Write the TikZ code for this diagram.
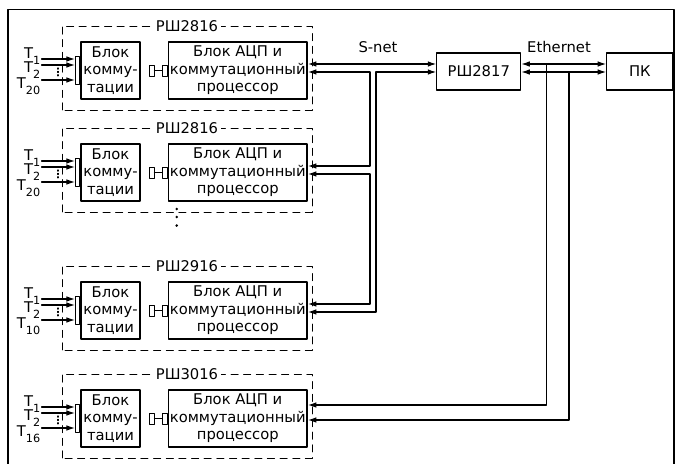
\documentclass[tikz,border=0pt]{standalone}
\usepackage{fontspec}
\setmainfont{DejaVu Sans}
\usetikzlibrary{arrows.meta}
\newcommand{\tin}[1]{T\raisebox{-4.5pt}{\footnotesize #1}}

\begin{document}
\begin{tikzpicture}[line cap=round,line join=round,
    font=\fontsize{10.5}{12.5}\selectfont,
    box/.style={draw,line width=0.9pt,align=center,inner sep=0pt,minimum height=1.425cm},
    plug/.style={draw,line width=0.7pt,inner sep=0pt,minimum width=0.125cm,minimum height=0.275cm},
    rack/.style={line width=0.7pt,dash pattern=on 5pt off 4pt},
    wire/.style={line width=0.75pt},
    into/.style={wire,-{Latex[length=2.1mm,width=1.4mm]}},
    both/.style={wire,{Latex[length=2.1mm,width=1.4mm]}-{Latex[length=2.1mm,width=1.4mm]}}]
  \useasboundingbox (0,0) rectangle (17.05,11.6);
  \draw[line width=0.8pt] (0.2,0) |- (16.85,11.36) -- (16.85,0);
  % four racks
  \foreach \i/\d/\lbl/\nn/\ya in {1/0/РШ2816/20/10.0,2/2.55/РШ2816/20/10.0,3/6.0/РШ2916/10/10.0,4/8.7/РШ3016/16/10.175}{
    \begin{scope}[yshift=-\d cm]
      \draw[rack] (1.55,8.85) rectangle (7.8,10.95);
      \node[fill=white,inner sep=2pt] (n\i) at (4.675,10.95) {\lbl};
      \node[box,minimum width=1.475cm] (k\i) at (2.7625,9.8375) {Блок\\комму-\\тации};
      \node[box,minimum width=3.4625cm] (p\i) at (5.944,9.8375) {Блок АЦП и\\коммутационный\\процессор};
      \node[draw,line width=0.8pt,inner sep=0pt,minimum width=0.11cm,minimum height=0.7cm,anchor=east] (bar\i) at (k\i.west) {};
      \node[plug] (l\i) at (3.7875,9.8375) {};
      \node[plug,anchor=east] (r\i) at (p\i.west) {};
      \draw[wire] (l\i) -- (r\i);
      \coordinate (a\i) at (1.04,10.125);
      \coordinate (b\i) at (1.04,9.975);
      \coordinate (c\i) at (1.04,9.6);
      \foreach \s in {a,b,c} \draw[into] (\s\i) -- (\s\i -| bar\i.west);
      \draw[wire,dash pattern=on 0.8pt off 1.6pt] (1.45,9.9) -- (1.45,9.65);
      \node[anchor=base east,inner sep=0pt] (ta\i) at (1.0125,10.1425) {\tin{1}};
      \node[anchor=base east,inner sep=0pt] (tb\i) at (1.0125,9.7925) {\tin{2}};
      \node[anchor=base east,inner sep=0pt] (tc\i) at (1.0125,9.3925) {\tin{\nn}};
      \coordinate (hi\i) at (7.7,\ya);
      \coordinate (lo\i) at (7.7,9.8);
    \end{scope}
  }
  \foreach \y in {6.375,6.175,5.96} \fill (4.4175,\y) circle (0.035);
  \node[box,minimum width=2.1cm,minimum height=0.925cm] (rsh) at (11.97,9.8125) {РШ2817};
  \node[box,minimum width=1.66cm,minimum height=0.925cm] (pc) at (15.9975,9.8125) {ПК};
  \node (snet) at (9.45,10.425) {S-net};
  \node (eth) at (13.975,10.425) {Ethernet};
  \coordinate (busa) at (9.25,0);
  \coordinate (busb) at (9.4,0);
  \coordinate (etha) at (13.67,0);
  \coordinate (ethb) at (14.225,0);
  % S-net
  \draw[both] (hi1) -- (hi1 -| rsh.west);
  \draw[both] (lo1) -- (lo1 -| busa) -- (hi2 -| busa) -- (hi2);
  \draw[both] (lo1 -| rsh.west) -- (lo1 -| busb) -- (lo3 -| busb) -- (lo3);
  \draw[both] (lo2) -- (lo2 -| busa) -- (hi3 -| busa) -- (hi3);
  % Ethernet
  \draw[both] (hi1 -| rsh.east) -- (hi1 -| pc.west);
  \draw[both] (lo1 -| rsh.east) -- (lo1 -| pc.west);
  \draw[into] (hi1 -| etha) -- (hi4 -| etha) -- (hi4);
  \draw[into] (lo1 -| ethb) -- (lo4 -| ethb) -- (lo4);
\end{tikzpicture}
\end{document}
